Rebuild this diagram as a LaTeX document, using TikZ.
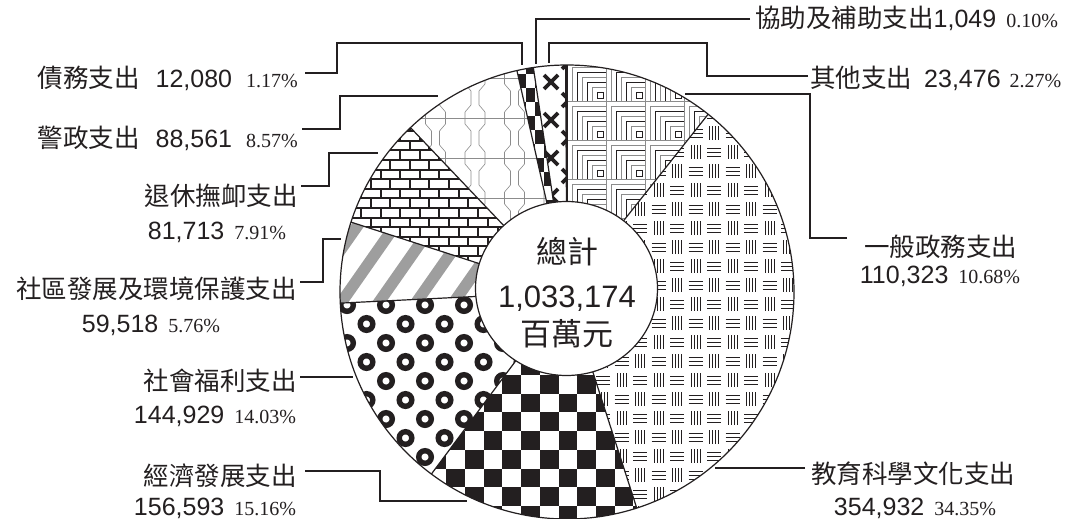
\documentclass[tikz,border=0pt]{standalone}
\usepackage{fontspec}
\setmainfont{Liberation Sans}
\newfontfamily\cjk{Noto Sans CJK TC}
\newfontfamily\pctf{Liberation Serif}
\definecolor{ink}{RGB}{35,31,32}
\newcommand\pc[1]{{\pctf\fontsize{20}{20}\selectfont #1}}
\newcommand\zh[1]{{\cjk\fontsize{25.5}{30}\selectfont #1}}
\newcommand\zhb[1]{{\cjk\fontsize{31}{36}\selectfont #1}}
\begin{document}
\begin{tikzpicture}[x=1pt,y=-1pt,
  lab/.style={inner sep=0pt,text=ink,font=\fontsize{25}{30}\selectfont},
  conn/.style={draw=ink,line width=1.4pt},
  bord/.style={draw=ink,line width=1.2pt},
  thinl/.style={line width=0.9pt,draw=ink},
  grayl/.style={line width=0.6pt,draw=black!45}]
\useasboundingbox (0,0) rectangle (1084,519);
\fill[white] (0,0) rectangle (1084,519);

% ---------- 一般政務支出 : nested squares
\begin{scope}
\clip (567,292) -- ++(-90:227) arc[start angle=-90,end angle=-51.55,radius=227] -- cycle;
\foreach \i in {0,...,6}{\foreach \j in {0,...,6}{
  \pgfmathsetmacro\xo{567+39*\i}\pgfmathsetmacro\yo{62+39*\j}
  \draw[grayl] (\xo,\yo) rectangle ++(39,39);
  \foreach \k in {1,...,5}{
    \pgfmathsetmacro\d{5*\k}
    \pgfmathtruncatemacro\odd{mod(\k,2)}
    \ifnum\odd=1 \def\cc{black!45}\else\def\cc{ink}\fi
    \draw[draw=\cc,line width=0.7pt] (\xo+\d,\yo+39) |- (\xo+39,\yo+\d);
  }
  \draw[draw=ink,line width=0.8pt] (\xo+30,\yo+30) rectangle (\xo+36,\yo+36);
}}
\end{scope}

% ---------- 教育科學文化支出 : basket weave
\begin{scope}
\clip (567,292) -- ++(-51.55:227) arc[start angle=-51.55,end angle=72.11,radius=227] -- cycle;
\foreach \i in {0,...,13}{\foreach \j in {0,...,24}{
  \pgfmathsetmacro\xc{566+18.5*\i}\pgfmathsetmacro\yc{57+19*\j}
  \pgfmathtruncatemacro\pp{mod(\i+\j,2)}
  \ifnum\pp=1
    \foreach \o in {-4,0,4}{\draw[thinl] (\xc-7,\yc+\o) -- (\xc+7,\yc+\o);}
  \else
    \foreach \o in {-4.5,-1.5,1.5,4.5}{\draw[thinl] (\xc+\o,\yc-7) -- (\xc+\o,\yc+7);}
  \fi
}}
\end{scope}

% ---------- 經濟發展支出 : checkerboard
\begin{scope}
\clip (567,292) -- ++(72.11:227) arc[start angle=72.11,end angle=126.68,radius=227] -- cycle;
\foreach \i in {0,...,18}{\foreach \j in {0,...,9}{
  \pgfmathtruncatemacro\pp{mod(\i+\j,2)}
  \ifnum\pp=1
    \fill[ink] (465+18.7*\i-149.6,375+18.7*\j-18.7) rectangle ++(18.7,18.7);
  \fi
}}
\end{scope}

% ---------- 社會福利支出 : rings
\begin{scope}
\clip (567,292) -- ++(126.68:227) arc[start angle=126.68,end angle=177.19,radius=227] -- cycle;
\foreach \i in {-1,...,4}{\foreach \j in {-1,...,5}{
  \draw[ink,line width=5.4pt] (347+39*\i,305+38*\j) circle[radius=6.3];
  \draw[ink,line width=5.4pt] (366.5+39*\i,324+38*\j) circle[radius=6.3];
}}
\end{scope}

% ---------- 社區發展及環境保護支出 : stripes
\begin{scope}
\clip (567,292) -- ++(177.19:227) arc[start angle=177.19,end angle=197.93,radius=227] -- cycle;
\foreach \k in {-3,...,5}{
  \fill[black!38] (329+37.5*\k,310) -- (343+37.5*\k,310) -- (413+37.5*\k,210) -- (399+37.5*\k,210) -- cycle;
}
\end{scope}

% ---------- 退休撫卹支出 : bricks
\begin{scope}
\clip (567,292) -- ++(197.93:227) arc[start angle=197.93,end angle=226.40,radius=227] -- cycle;
\foreach \k in {0,...,17}{
  \pgfmathsetmacro\yy{140.7+9.6*(\k-3)}
  \pgfmathsetmacro\sh{9.75*mod(\k,2)}
  \draw[ink,line width=2pt] (330,\yy) -- (525,\yy);
  \foreach \m in {-4,...,6}{\draw[ink,line width=2pt] (400+19.5*\m+\sh,\yy) -- ++(0,9.6);}
}
\end{scope}

% ---------- 警政支出 : bone pattern
\begin{scope}
\clip (567,292) -- ++(226.40:227) arc[start angle=226.40,end angle=257.26,radius=227] -- cycle;
\foreach \k in {-2,...,3}{
  \pgfmathsetmacro\yk{118+40*\k}
  \draw[grayl] (380,\yk) -- (570,\yk);
  \foreach \m in {-3,...,3}{
    \pgfmathsetmacro\xc{475+39.5*\m}
    \draw[grayl] (\xc-10,\yk-6) -- (\xc-10,\yk+6) -- (\xc-4,\yk+13) -- (\xc-4,\yk+27) -- (\xc-10,\yk+34);
    \draw[grayl] (\xc+10,\yk-6) -- (\xc+10,\yk+6) -- (\xc+4,\yk+13) -- (\xc+4,\yk+27) -- (\xc+10,\yk+34);
  }
}
\end{scope}

% ---------- 債務支出 : small checker
\begin{scope}
\clip (567,292) -- ++(257.26:227) arc[start angle=257.26,end angle=261.47,radius=227] -- cycle;
\foreach \i in {0,...,6}{\foreach \j in {0,...,11}{
  \pgfmathtruncatemacro\pp{mod(\i+\j,2)}
  \ifnum\pp=0 \fill[ink] (508+9*\i,60+14*\j) rectangle ++(9,14);\fi
}}
\end{scope}

% ---------- 其他支出 : crosses
\begin{scope}
\clip (567,292) -- ++(261.47:227) arc[start angle=261.47,end angle=269.64,radius=227] -- cycle;
\foreach \j in {-1,...,4}{
  \foreach \cx/\cy in {551/82+38*\j, 569/100+38*\j}{
    \draw[ink,line width=3.6pt] (\cx-7,\cy-7) -- (\cx+7,\cy+7) (\cx-7,\cy+7) -- (\cx+7,\cy-7);
  }
}
\end{scope}

% ---------- borders
\foreach \a in {-90,-51.55,72.11,126.68,177.19,197.93,226.40,257.26,261.47,269.64}{
  \draw[bord] (567,292) -- ++(\a:227);
}
\draw[bord] (567,292) circle[radius=227];
\filldraw[fill=white,bord] (566.5,288.5) ellipse[x radius=91,y radius=87];

% ---------- centre text
\node[lab] (tot) at (567,252) {\zhb{總計}};
\node[lab,anchor=base,font=\fontsize{31}{36}\selectfont] (num) at (567,307) {1,033,174};
\node[lab,anchor=base] (unit) at (567,345) {\zhb{百萬元}};

% ---------- left labels
\node[lab,anchor=base east] (l1) at (298,88) {\zh{債務支出}\hspace{16pt}12,080\hspace{14pt}\pc{1.17\%}};
\node[lab,anchor=base east] (l2) at (298,147) {\zh{警政支出}\hspace{16pt}88,561\hspace{14pt}\pc{8.57\%}};
\node[lab,anchor=base east] (l3a) at (298,205) {\zh{退休撫卹支出}};
\node[lab,anchor=base] (l3b) at (217,239) {81,713\hspace{10pt}\pc{7.91\%}};
\node[lab,anchor=base east] (l4a) at (297,298) {\zh{社區發展及環境保護支出}};
\node[lab,anchor=base] (l4b) at (151,332) {59,518\hspace{10pt}\pc{5.76\%}};
\node[lab,anchor=base east] (l5a) at (297,390) {\zh{社會福利支出}};
\node[lab,anchor=base] (l5b) at (215,423) {144,929\hspace{10pt}\pc{14.03\%}};
\node[lab,anchor=base east] (l6a) at (297,485) {\zh{經濟發展支出}};
\node[lab,anchor=base] (l6b) at (215,515) {156,593\hspace{10pt}\pc{15.16\%}};

% ---------- right labels
\node[lab,anchor=base west] (r1) at (755,28) {\zh{協助及補助支出}1,049\hspace{10pt}\pc{0.10\%}};
\node[lab,anchor=base west] (r2) at (810,87) {\zh{其他支出}\hspace{12pt}23,476\hspace{9pt}\pc{2.27\%}};
\node[lab,anchor=base west] (r3a) at (864,256) {\zh{一般政務支出}};
\node[lab,anchor=base] (r3b) at (940,283) {110,323\hspace{10pt}\pc{10.68\%}};
\node[lab,anchor=base west] (r4a) at (811,483) {\zh{教育科學文化支出}};
\node[lab,anchor=base] (r4b) at (915,515) {354,932\hspace{10pt}\pc{34.35\%}};

% ---------- connectors
\coordinate (s1) at (305,73);  \coordinate (e1) at (522,65);
\coordinate (s2) at (302,129); \coordinate (e2) at (438,96);
\coordinate (s3) at (301,186); \coordinate (e3) at (378,153);
\coordinate (s4) at (300,282); \coordinate (e4) at (341,239);
\coordinate (s5) at (300,377); \coordinate (e5) at (353,377);
\coordinate (s6) at (305,471); \coordinate (e6) at (467,501);
\coordinate (s7) at (750,19);  \coordinate (e7) at (536,64);
\coordinate (s8) at (808,76);  \coordinate (e8) at (549,63);
\coordinate (s9) at (847,238); \coordinate (e9) at (685,94);
\coordinate (s10) at (805,468); \coordinate (e10) at (715,468);
\draw[conn] (s1) -| (337,43) -| (e1);
\draw[conn] (s2) -| (340,96) -- (e2);
\draw[conn] (s3) -| (329,153) -- (e3);
\draw[conn] (s4) -| (323,239) -- (e4);
\draw[conn] (s5) -- (e5);
\draw[conn] (s6) -| (380,501) -- (e6);
\draw[conn] (s7) -| (e7);
\draw[conn] (s8) -| (707,43) -| (e8);
\draw[conn] (s9) -| (810,94) -- (e9);
\draw[conn] (s10) -- (e10);
\end{tikzpicture}
\end{document}
